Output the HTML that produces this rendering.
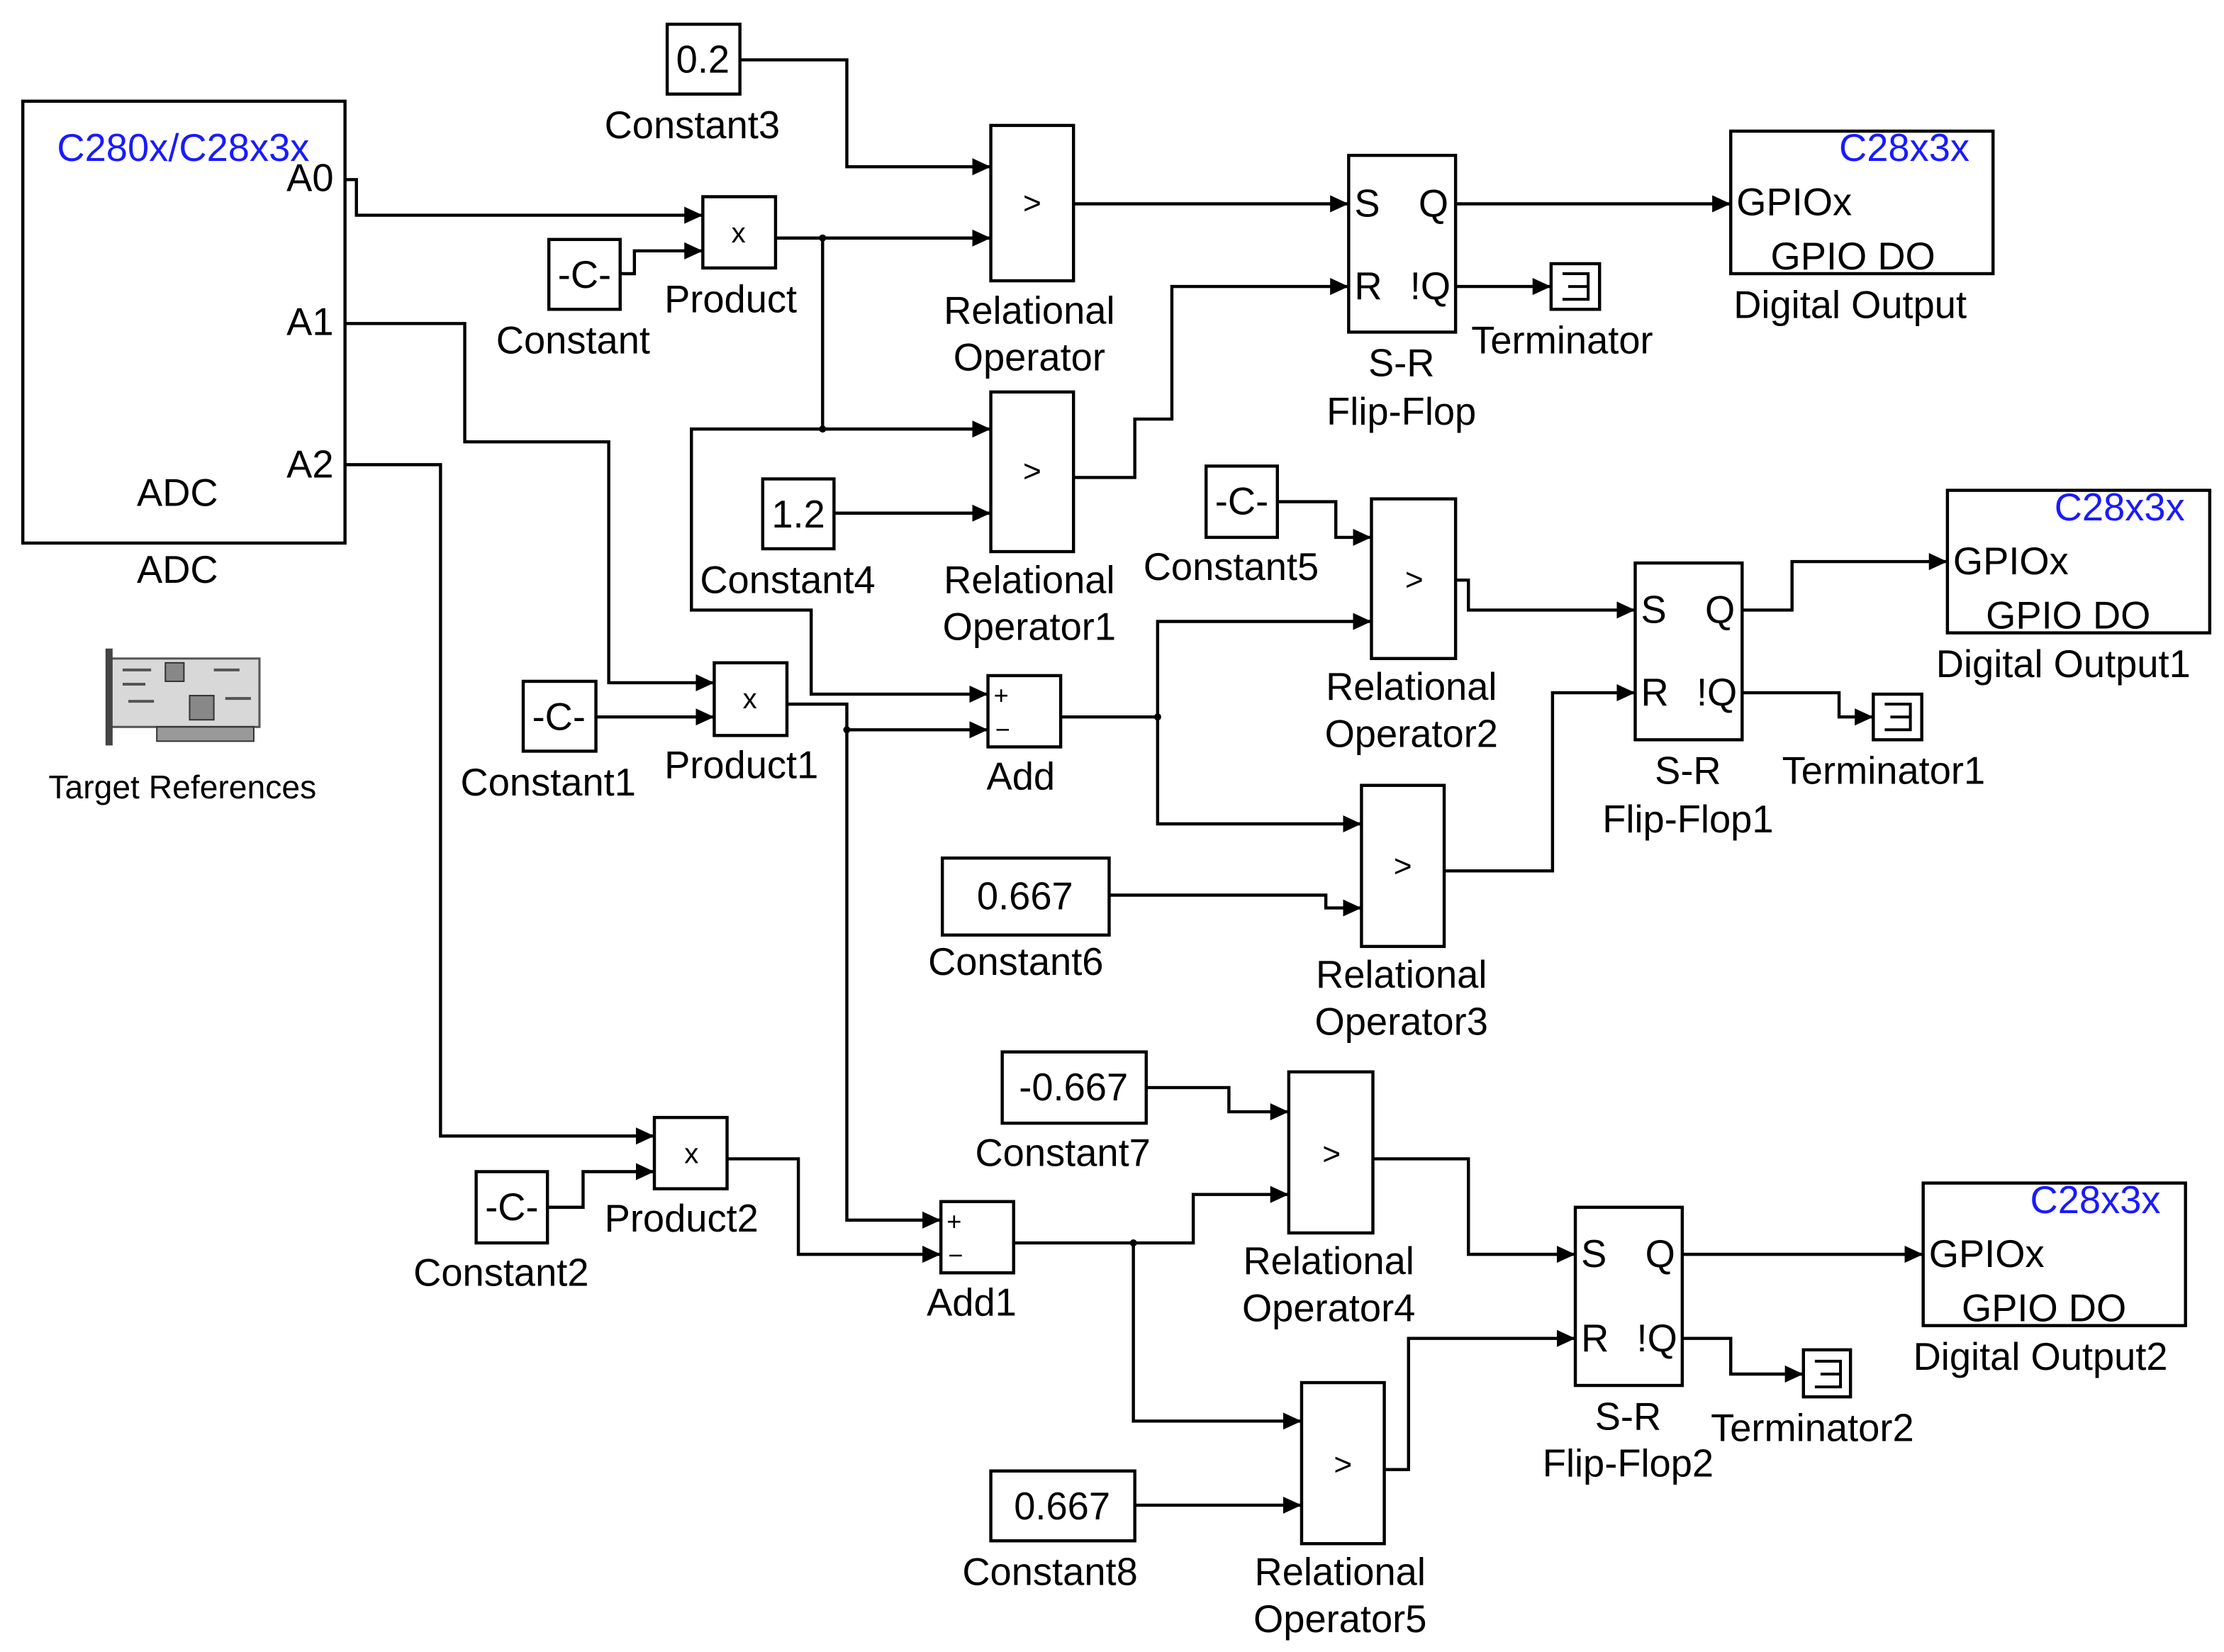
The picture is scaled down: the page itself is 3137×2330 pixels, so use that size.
<!DOCTYPE html>
<html><head><meta charset="utf-8"><style>
html,body{margin:0;padding:0;background:#fff;}
svg{display:block;}
text{font-family:"Liberation Sans",Arial,sans-serif;font-size:27px;fill:#000;}
.b{fill:#1a1aff;}
.m{text-anchor:middle;}
</style></head><body>
<svg width="3137" height="2330" viewBox="0 0 1560 1159" preserveAspectRatio="none" xmlns="http://www.w3.org/2000/svg">
<defs><marker id="a" markerUnits="userSpaceOnUse" markerWidth="14" markerHeight="14" refX="13" refY="7" orient="auto"><path d="M0,1 L13,7 L0,13 z" fill="#000"/></marker></defs>
<g fill="none" stroke="#000" stroke-width="2.2">
<!-- blocks -->
<rect x="16" y="71" width="226" height="310"/>
<rect x="468" y="17" width="51" height="49"/>
<rect x="493" y="138" width="51" height="50"/>
<rect x="385" y="168" width="50" height="49"/>
<rect x="695" y="88" width="58" height="109"/>
<rect x="695" y="275" width="58" height="112"/>
<rect x="535" y="336" width="50" height="49"/>
<rect x="946" y="109" width="75" height="124"/>
<rect x="1088" y="185" width="34" height="32"/>
<rect x="1214" y="92" width="184" height="100"/>
<rect x="846" y="327" width="50" height="50"/>
<rect x="962" y="350" width="59" height="112"/>
<rect x="1147" y="395" width="75" height="124"/>
<rect x="1366" y="344" width="184" height="100"/>
<rect x="1314" y="487" width="34" height="32"/>
<rect x="367" y="478" width="51" height="49"/>
<rect x="501" y="465" width="51" height="51"/>
<rect x="693" y="474" width="51" height="50"/>
<rect x="955" y="551" width="58" height="113"/>
<rect x="661" y="602" width="117" height="54"/>
<rect x="703" y="738" width="101" height="50"/>
<rect x="904" y="752" width="59" height="113"/>
<rect x="1105" y="847" width="75" height="125"/>
<rect x="1349" y="830" width="184" height="100"/>
<rect x="1265" y="947" width="33" height="33"/>
<rect x="459" y="784" width="51" height="50"/>
<rect x="334" y="822" width="50" height="50"/>
<rect x="660" y="843" width="51" height="50"/>
<rect x="913" y="970" width="58" height="113"/>
<rect x="695" y="1032" width="101" height="49"/>
</g>
<!-- terminator glyphs -->
<g fill="none" stroke="#000" stroke-width="2">
<path d="M1096,192 h18 v18 h-18 M1100,201 h14"/>
<path d="M1322,494 h18 v18 h-18 M1326,503 h14"/>
<path d="M1273,955 h18 v18 h-18 M1277,964 h14"/>
</g>
<!-- wires -->
<g fill="none" stroke="#000" stroke-width="2.2" marker-end="url(#a)">
<path d="M242,126 H250 V151 H493"/>
<path d="M435,192 H445 V176 H493"/>
<path d="M519,42 H594 V117 H695"/>
<path d="M544,167 H695"/>
<path d="M577,167 V301 H695"/>
<path d="M577,301 H485 V428 H569 V487 H693"/>
<path d="M585,360 H695"/>
<path d="M753,143 H946"/>
<path d="M753,335 H796 V294 H822 V201 H946"/>
<path d="M1021,143 H1214"/>
<path d="M1021,201 H1088"/>
<path d="M242,227 H326 V310 H427 V479 H501"/>
<path d="M418,503 H501"/>
<path d="M552,494 H594 V512 H693"/>
<path d="M594,512 V856 H660"/>
<path d="M744,503 H812 V436 H962"/>
<path d="M812,503 V578 H955"/>
<path d="M896,352 H937 V377 H962"/>
<path d="M1021,407 H1030 V428 H1147"/>
<path d="M778,628 H930 V637 H955"/>
<path d="M1013,611 H1089 V486 H1147"/>
<path d="M1222,428 H1257 V394 H1366"/>
<path d="M1222,486 H1290 V503 H1314"/>
<path d="M242,326 H309 V797 H459"/>
<path d="M384,847 H409 V822 H459"/>
<path d="M510,813 H560 V880 H660"/>
<path d="M804,763 H862 V780 H904"/>
<path d="M711,872 H837 V838 H904"/>
<path d="M795,872 V997 H913"/>
<path d="M963,813 H1030 V880 H1105"/>
<path d="M796,1056 H913"/>
<path d="M971,1031 H988 V939 H1105"/>
<path d="M1180,880 H1349"/>
<path d="M1180,939 H1214 V964 H1265"/>
</g>
<g fill="#000"><circle cx="577" cy="167" r="2.5"/><circle cx="577" cy="301" r="2.5"/><circle cx="594" cy="512" r="2.5"/><circle cx="812" cy="503" r="2.5"/><circle cx="795" cy="872" r="2.5"/></g>
<!-- target references icon -->
<g>
<rect x="76" y="462" width="106" height="48" fill="#d8d8d8" stroke="#555" stroke-width="1.5"/>
<rect x="74" y="455" width="5" height="68" fill="#444"/>
<rect x="116" y="465" width="13" height="13" fill="#888" stroke="#333"/>
<rect x="133" y="488" width="17" height="17" fill="#888" stroke="#333"/>
<rect x="110" y="510" width="68" height="10" fill="#999" stroke="#333"/>
<path d="M86,470 h20 M86,480 h16 M90,492 h18 M150,470 h18 M158,490 h18" stroke="#555" stroke-width="2"/>
</g>
<!-- texts -->
<text class="b" x="40" y="113">C280x/C28x3x</text>
<text x="201" y="134">A0</text>
<text x="201" y="235">A1</text>
<text x="201" y="335">A2</text>
<text x="96" y="355">ADC</text>
<text x="96" y="409">ADC</text>
<text x="34" y="560" style="font-size:23px">Target References</text>
<text class="m" x="493" y="51">0.2</text>
<text x="424" y="97">Constant3</text>
<text class="m" x="518" y="170" style="font-size:20px">x</text>
<text x="466" y="219">Product</text>
<text class="m" x="410" y="202">-C-</text>
<text x="348" y="248">Constant</text>
<text class="m" x="724" y="150" style="font-size:22px">&gt;</text>
<text class="m" x="722" y="227">Relational</text>
<text class="m" x="722" y="260">Operator</text>
<text class="m" x="724" y="338" style="font-size:22px">&gt;</text>
<text class="m" x="560" y="370">1.2</text>
<text x="491" y="416">Constant4</text>
<text class="m" x="722" y="416">Relational</text>
<text class="m" x="722" y="449">Operator1</text>
<text x="950" y="152">S</text><text x="995" y="152">Q</text>
<text x="950" y="210">R</text><text x="989" y="210">!Q</text>
<text class="m" x="983" y="264">S-R</text>
<text class="m" x="983" y="298">Flip-Flop</text>
<text x="1032" y="248">Terminator</text>
<text class="b" x="1290" y="113">C28x3x</text>
<text x="1218" y="151">GPIOx</text>
<text x="1242" y="189">GPIO DO</text>
<text x="1216" y="223">Digital Output</text>
<text class="m" x="871" y="361">-C-</text>
<text x="802" y="407">Constant5</text>
<text class="m" x="992" y="414" style="font-size:22px">&gt;</text>
<text class="m" x="990" y="491">Relational</text>
<text class="m" x="990" y="524">Operator2</text>
<text x="1151" y="437">S</text><text x="1196" y="437">Q</text>
<text x="1151" y="495">R</text><text x="1190" y="495">!Q</text>
<text class="m" x="1184" y="550">S-R</text>
<text class="m" x="1184" y="584">Flip-Flop1</text>
<text class="b" x="1441" y="365">C28x3x</text>
<text x="1370" y="403">GPIOx</text>
<text x="1393" y="441">GPIO DO</text>
<text x="1358" y="475">Digital Output1</text>
<text x="1250" y="550">Terminator1</text>
<text class="m" x="392" y="512">-C-</text>
<text x="323" y="558">Constant1</text>
<text class="m" x="526" y="497" style="font-size:20px">x</text>
<text x="466" y="546">Product1</text>
<text x="697" y="494" style="font-size:18px">+</text>
<text x="698" y="518" style="font-size:18px">−</text>
<text x="692" y="554">Add</text>
<text class="m" x="984" y="615" style="font-size:22px">&gt;</text>
<text class="m" x="719" y="638">0.667</text>
<text x="651" y="684">Constant6</text>
<text class="m" x="983" y="693">Relational</text>
<text class="m" x="983" y="726">Operator3</text>
<text class="m" x="753" y="772">-0.667</text>
<text x="684" y="818">Constant7</text>
<text class="m" x="934" y="817" style="font-size:22px">&gt;</text>
<text class="m" x="932" y="894">Relational</text>
<text class="m" x="932" y="927">Operator4</text>
<text x="1109" y="889">S</text><text x="1154" y="889">Q</text>
<text x="1109" y="948">R</text><text x="1148" y="948">!Q</text>
<text class="m" x="1142" y="1003">S-R</text>
<text class="m" x="1142" y="1036">Flip-Flop2</text>
<text class="b" x="1424" y="851">C28x3x</text>
<text x="1353" y="889">GPIOx</text>
<text x="1376" y="927">GPIO DO</text>
<text x="1342" y="961">Digital Output2</text>
<text x="1200" y="1011">Terminator2</text>
<text class="m" x="485" y="816" style="font-size:20px">x</text>
<text x="424" y="864">Product2</text>
<text class="m" x="359" y="856">-C-</text>
<text x="290" y="902">Constant2</text>
<text x="664" y="863" style="font-size:18px">+</text>
<text x="665" y="887" style="font-size:18px">−</text>
<text x="650" y="923">Add1</text>
<text class="m" x="942" y="1035" style="font-size:22px">&gt;</text>
<text class="m" x="745" y="1066">0.667</text>
<text x="675" y="1112">Constant8</text>
<text class="m" x="940" y="1112">Relational</text>
<text class="m" x="940" y="1145">Operator5</text>
</svg>
</body></html>
